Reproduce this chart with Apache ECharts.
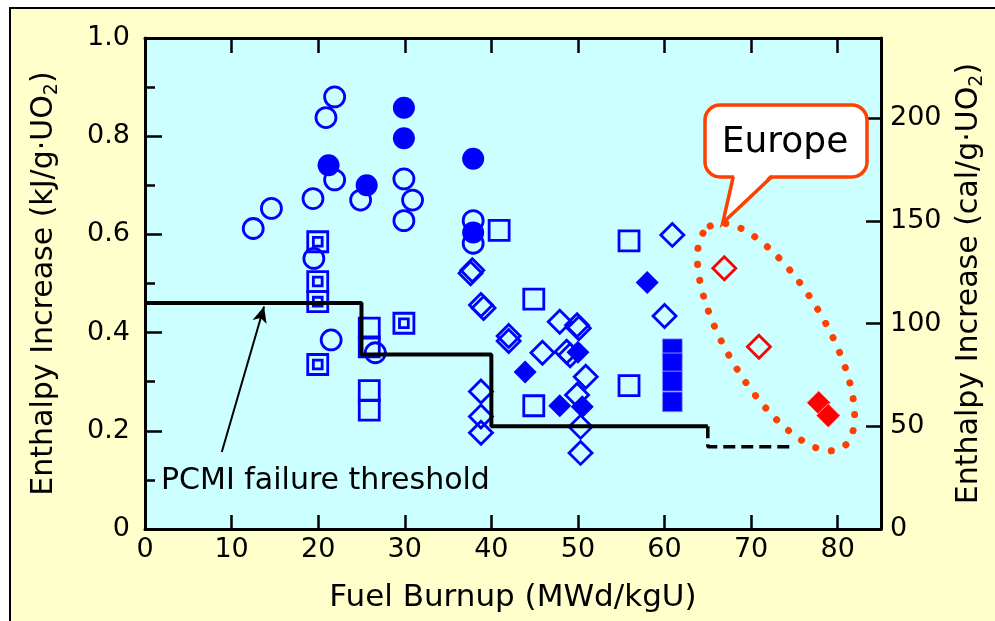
<!DOCTYPE html>
<html><head><meta charset="utf-8">
<script src="https://cdn.jsdelivr.net/npm/echarts@6/dist/echarts.min.js"></script>
<style>html,body{margin:0;padding:0;background:#fff}#c{width:995px;height:621px}</style>
</head><body><div id="c"></div>
<script>
const FONT = 'DejaVu Sans';
const CAL_PER_KJ = 239;

// [burnup MWd/kgU, enthalpy kJ/g·UO2]
const openCircles = [[21.9,0.880],[20.9,0.838],[21.9,0.711],[24.9,0.670],[19.4,0.673],[14.6,0.653],[12.5,0.612],[19.5,0.551],[29.9,0.713],[30.9,0.670],[29.9,0.628],[37.9,0.628],[37.9,0.582],[21.5,0.385],[26.6,0.359]];
const filledCircles = [[21.2,0.741],[25.6,0.700],[29.9,0.858],[29.9,0.796],[37.9,0.754],[37.9,0.604]];
const doubleSquares = [[19.95,0.585],[19.95,0.504],[19.95,0.463],[19.95,0.335],[29.9,0.419]];
const openSquares = [[25.9,0.409],[25.9,0.371],[25.9,0.282],[25.9,0.242],[40.9,0.608],[44.9,0.468],[44.9,0.251],[55.9,0.587],[55.9,0.292]];
const filledSquares = [[60.9,0.367],[60.9,0.338],[60.9,0.301],[60.9,0.259]];
const openDiamonds = [[37.8,0.527],[37.6,0.521],[39.1,0.450],[38.8,0.456],[42.0,0.393],[42.0,0.383],[47.9,0.422],[49.9,0.415],[50.1,0.409],[45.9,0.359],[48.7,0.361],[49.1,0.354],[50.9,0.310],[49.9,0.273],[50.3,0.208],[50.3,0.155],[38.8,0.280],[38.8,0.229],[38.8,0.196],[60.9,0.599],[60.0,0.434]];
const filledDiamonds = [[43.9,0.320],[50.0,0.360],[47.9,0.251],[50.5,0.249],[58.0,0.502]];
const europeOpenDiamonds = [[66.9,0.531],[70.9,0.371]];
const europeFilledDiamonds = [[77.8,0.257],[78.9,0.231]];

// PCMI failure threshold (cal/g·UO2)
const thresholdBurnup = [0,25,25,40,40,65];
const thresholdCal = [110,110,85,85,50,50];
const extrapBurnup = [65,65,75];
const extrapCal = [50,40,40];
const arrowFrom = [8.87,0.157];
const arrowTo = [13.75,0.453];

const toKJ = (xs, cs) => xs.map((x,i)=>[x, cs[i]/CAL_PER_KJ]);

const BLUE = '#0000ff', RED = '#ff0000', ORANGE = '#ff4000';
const openStyle = c => ({color:'rgba(0,0,0,0)', borderColor:c, borderWidth:2.8, opacity:1});
const fillStyle = c => ({color:c, opacity:1});
const DSQ = 'path://M0,0L20,0L20,20L0,20ZM5.6,5.6L14.4,5.6L14.4,14.4L5.6,14.4Z';

function sc(name, data, symbol, size, style, z){
  return {name, type:'scatter', data, symbol, symbolSize:size, itemStyle:style, z:z||2, silent:true, emphasis:{disabled:true}};
}

const axisLine = {show:true, onZero:false, lineStyle:{color:'#000', width:3}};
const tickStyle = {color:'#000', width:2.5};
const labelBase = {fontSize:27, color:'#000', fontFamily:FONT};

const chart = echarts.init(document.getElementById('c'), null, {renderer:'canvas'});
chart.setOption({
  animation:false,
  backgroundColor:'#FFFFCC',
  grid:{left:145, right:112, top:38, bottom:92, show:true, backgroundColor:'#CCFFFF', borderWidth:0},
  xAxis:[
    {type:'value', position:'bottom', min:0, max:85, interval:10, axisLine,
     axisTick:{show:true, inside:true, length:14, lineStyle:tickStyle},
     axisLabel:Object.assign({margin:7, formatter:v=>v%10===0?String(v):''}, labelBase),
     splitLine:{show:false},
     name:'Fuel Burnup (MWd/kgU)', nameLocation:'middle', nameGap:53,
     nameTextStyle:{fontSize:31, fontFamily:FONT, color:'#000'}},
    {type:'value', position:'top', min:0, max:85, interval:10, axisLine,
     axisTick:{show:true, inside:true, length:15, lineStyle:tickStyle},
     axisLabel:{show:false}, splitLine:{show:false}}
  ],
  yAxis:[
    {type:'value', position:'left', min:0, max:1, interval:0.2, axisLine,
     axisTick:{show:true, inside:true, length:17, lineStyle:tickStyle},
     minorTick:{show:true, splitNumber:2, length:10, lineStyle:tickStyle},
     axisLabel:Object.assign({margin:15, formatter:v=>v===0?'0':v.toFixed(1)}, labelBase),
     splitLine:{show:false}, minorSplitLine:{show:false},
     name:'{a|Enthalpy Increase (kJ/g·UO}{s|2}{a|)}', nameLocation:'middle', nameRotate:90, nameGap:83,
     nameTextStyle:{fontSize:30, fontFamily:FONT, color:'#000', rich:{
       a:{fontSize:30, fontFamily:FONT, color:'#000', lineHeight:36},
       s:{fontSize:19, fontFamily:FONT, color:'#000', lineHeight:20, verticalAlign:'bottom'}}}},
    {type:'value', position:'right', min:0, max:CAL_PER_KJ, interval:50, axisLine,
     axisTick:{show:true, inside:true, length:15, lineStyle:tickStyle},
     axisLabel:Object.assign({margin:9, formatter:v=>v%50===0?String(v):''}, labelBase),
     splitLine:{show:false},
     name:'{a|Enthalpy Increase (cal/g·UO}{s|2}{a|)}', nameLocation:'middle', nameRotate:90, nameGap:70,
     nameTextStyle:{fontSize:30, fontFamily:FONT, color:'#000', rich:{
       a:{fontSize:30, fontFamily:FONT, color:'#000', lineHeight:36},
       s:{fontSize:19, fontFamily:FONT, color:'#000', lineHeight:20, verticalAlign:'bottom'}}}}
  ],
  series:[
    sc('openCircles', openCircles, 'circle', 20, openStyle(BLUE)),
    sc('filledCircles', filledCircles, 'circle', 22, fillStyle(BLUE)),
    sc('doubleSquares', doubleSquares, DSQ, 20, openStyle(BLUE)),
    sc('openSquares', openSquares, 'rect', 20, openStyle(BLUE)),
    sc('filledSquares', filledSquares, 'rect', 20, {color:BLUE, borderColor:'#aab0ff', borderWidth:0.8, opacity:1}),
    sc('openDiamonds', openDiamonds, 'diamond', 23, openStyle(BLUE)),
    sc('filledDiamonds', filledDiamonds, 'diamond', 23, fillStyle(BLUE), 3),
    sc('europeOpen', europeOpenDiamonds, 'diamond', 23, openStyle(RED), 3),
    sc('europeFilled', europeFilledDiamonds, 'diamond', 24, {color:RED, borderColor:'#ffd0d0', borderWidth:0.8, opacity:1}, 3),
    {name:'threshold', type:'line', data:toKJ(thresholdBurnup, thresholdCal), symbol:'none', silent:true, z:5,
     lineStyle:{color:'#000', width:4, opacity:1},
     markLine:{silent:true, symbol:['none','arrow'], symbolSize:[11,16], label:{show:false},
       lineStyle:{color:'#000', width:2, type:'solid', opacity:1},
       data:[[{coord:arrowFrom},{coord:arrowTo}]]}},
    {name:'extrapolated', type:'line', data:toKJ(extrapBurnup, extrapCal), symbol:'none', silent:true, z:5,
     lineStyle:{color:'#000', width:3.5, type:[12,6], opacity:1}}
  ],
  graphic:[
    {type:'rect', shape:{x:0,y:0,width:995,height:7}, style:{fill:'#fff'}, silent:true},
    {type:'rect', shape:{x:0,y:0,width:9,height:621}, style:{fill:'#fff'}, silent:true},
    {type:'line', shape:{x1:9,y1:8,x2:995,y2:8}, style:{stroke:'#000', lineWidth:2}, silent:true},
    {type:'line', shape:{x1:10,y1:8,x2:10,y2:621}, style:{stroke:'#000', lineWidth:2}, silent:true},
    {type:'text', x:161, y:481, style:{text:'PCMI failure threshold', font:'30px "DejaVu Sans"', fill:'#000', textAlign:'left', textVerticalAlign:'middle'}, silent:true, z:10},
    {type:'ellipse', x:776, y:337, rotation:-1.035, shape:{cx:0, cy:0, rx:129, ry:50},
     style:{fill:'none', stroke:ORANGE, lineWidth:7, lineCap:'round', lineDash:[0.1,16]}, silent:true, z:10},
    {type:'rect', shape:{x:705, y:105, width:162, height:72, r:15},
     style:{fill:'#fff', stroke:ORANGE, lineWidth:3.5}, silent:true, z:10},
    {type:'polygon', shape:{points:[[734.5,174],[771,174],[722.7,222]]},
     style:{fill:'#fff'}, silent:true, z:11},
    {type:'polyline', shape:{points:[[733.3,176.5],[722.7,223],[772,176.5]]},
     style:{fill:'none', stroke:ORANGE, lineWidth:3.5, lineJoin:'miter'}, silent:true, z:11},
    {type:'text', x:785, y:143, style:{text:'Europe', font:'36px "DejaVu Sans"', fill:'#000', textAlign:'center', textVerticalAlign:'middle'}, silent:true, z:12}
  ]
});
</script></body></html>
